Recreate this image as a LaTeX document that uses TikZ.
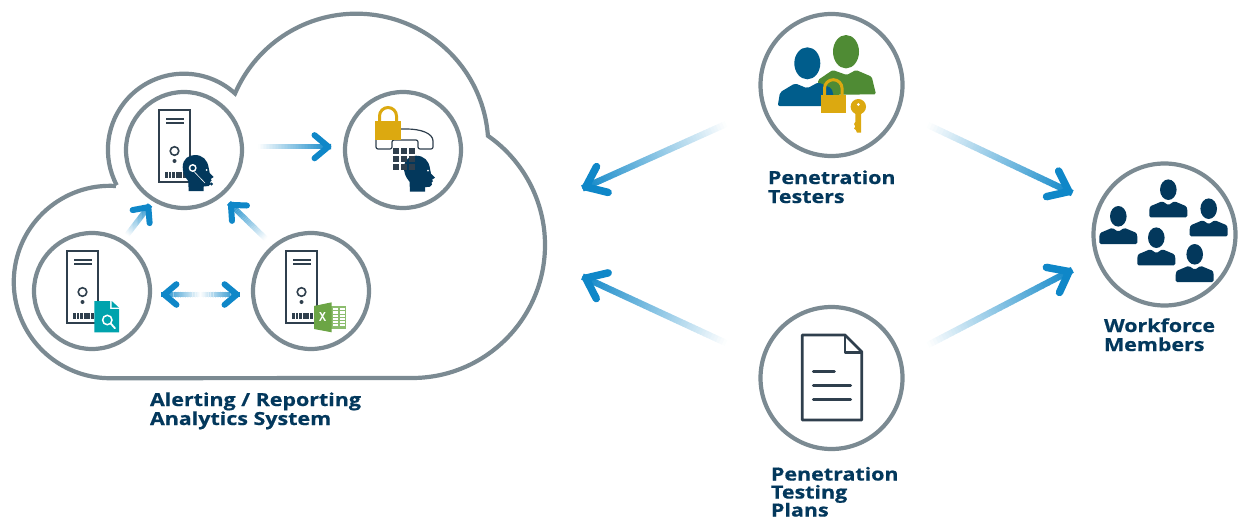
\documentclass[tikz,border=0pt]{standalone}
\usepackage{fontspec}
\usetikzlibrary{calc}
\newfontfamily\labelfont[FakeStretch=1.19,BoldFeatures={FakeBold=0.6}]{Open Sans}
\definecolor{ringgrey}{HTML}{7B8A92}
\definecolor{inkdark}{HTML}{2F3F4D}
\definecolor{navy}{HTML}{03385C}
\definecolor{arrowblue}{HTML}{0F87C8}
\definecolor{goldlock}{HTML}{DCA910}
\definecolor{peopleblue}{HTML}{005D8C}
\definecolor{peoplegreen}{HTML}{4F8B34}
\definecolor{tealdoc}{HTML}{00A3AD}
\definecolor{xlgreen}{HTML}{6CA545}
\definecolor{xllight}{HTML}{8CBD6E}
\tikzset{
  x=1pt,y=-1pt,
  ring/.style={circle,draw=ringgrey,line width=4.2pt,minimum size=#1,inner sep=0pt,outer sep=0pt},
  label/.style={anchor=base west,align=left,text=navy,inner sep=0pt,outer sep=0pt,
    font=\labelfont\bfseries\fontsize{18}{19}\selectfont},
  pics/server/.style={code={
    \draw[inkdark,line width=2pt] (-25,-40) rectangle (6,32);
    \draw[inkdark,line width=1.3pt] (-18,-31) -- (0,-31) (-18,-27) -- (0,-27);
    \draw[inkdark,line width=1.6pt] (-9.5,1) circle[radius=4.3];
    \fill[inkdark] (-9.5,11) circle[radius=2];
    \foreach \ya in {21.8,25.4}{
      \foreach \xa in {-18.8,-15.4,-12,-8,-4.6,-1.2}{
        \fill[inkdark] (\xa,\ya) rectangle ++(2.7,2.7);
      }}
  }},
  pics/profile/.style={code={
    \fill[navy] (6,36) -- (5.5,26) .. controls (1,21) and (0,16) .. (0,12)
      .. controls (0,4) and (6,0) .. (12,0) .. controls (20,0) and (25,5) .. (26,13)
      -- (27,18) -- (31,22) -- (28,24) -- (29,25.5) -- (27.5,27) -- (28,29) -- (26,31)
      -- (21,31.5) -- (21,36) -- cycle;
    \fill[white] (24,15) circle[radius=1];
  }},
  pics/person/.style={code={
    \fill[navy] (0,0) ellipse[x radius=8.3,y radius=10.3];
    \fill[navy,rounded corners=1.5pt] (-19,27.7) -- (-19,22) .. controls (-19,18) and (-18,16.5) .. (-15.5,15.5)
      -- (-6,11.5) -- (0,15.5) -- (6,11.5) -- (15.5,15.5) .. controls (18,16.5) and (19,18) .. (19,22)
      -- (19,27.7) -- cycle;
  }},
}
% tail, head, width: line from pale to full blue, in short steps
\newcommand{\gradshaft}[3]{%
  \foreach \i in {0,...,47}{
    \pgfmathsetmacro{\sa}{\i/48}
    \pgfmathsetmacro{\sb}{(\i+1.1)/48}
    \pgfmathsetmacro{\pc}{100*(\i+0.5)/48}
    \draw[arrowblue!\pc!white,line width=#3] ($(#1)!\sa!(#2)$) -- ($(#1)!\sb!(#2)$);
  }}
% head, tail, barb length, barb angle, width
\newcommand{\gradhead}[5]{%
  \coordinate (hubpt) at ($(#1)!0.45*#5!(#2)$);
  \draw[arrowblue,line width=#5,line cap=round,line join=round]
    ($(hubpt)!#3!#4:(#2)$) -- (hubpt) -- ($(hubpt)!#3!-#4:(#2)$);
}
\begin{document}
\begin{tikzpicture}
\useasboundingbox (0,0) rectangle (1238,517);
% cloud
\draw[ringgrey,line width=4.2pt,line join=miter,miter limit=20]
  (116,186) arc[start angle=-86.4,end angle=-270,radius=96.2]
  -- (412,378) arc[start angle=90,end angle=-55.2,radius=133]
  arc[start angle=-4.3,end angle=-156.7,radius=132]
  arc[start angle=-47.7,end angle=-207.9,radius=76];
% rings
\node[ring=116pt] (alert) at (184,150) {};
\node[ring=116pt] (phone) at (403,150) {};
\node[ring=116pt] (report) at (92,291) {};
\node[ring=116pt] (sheet) at (311,291) {};
\node[ring=142pt] (testers) at (831.5,85) {};
\node[ring=142pt] (plans) at (831.5,378) {};
\node[ring=142pt] (workforce) at (1164.5,234.5) {};
% servers
\pic at (184,150) {server};
\pic at (92,291) {server};
\pic at (311,291) {server};
% headset agent
\pic at (182.7,155) {profile};
\fill[white] (192.7,168) circle[radius=4];
\fill[navy] (192.7,168) circle[radius=2.3];
\draw[white,line width=0.6pt] (193.5,171) -- (205,183);
\fill[navy] (211.5,184) circle[radius=1.6];
% phone and keypad
\draw[inkdark,line width=1.2pt,fill=white,rounded corners=2pt] (376,134) -- (376,149) -- (392,149) -- (392,140)
  -- (418,140) -- (418,149) -- (433,149) -- (433,143) .. controls (433,133) and (420,129) .. (405,129) -- (376,129) -- cycle;
\pic at (404,155.7) {profile};
\foreach \xa in {393.2,401.2,409.2}{\foreach \ya in {148.2,156.2,164.2}{
  \fill[inkdark] (\xa,\ya) rectangle ++(6,6);}}
\draw[goldlock,line width=3pt] (379.5,122) -- (379.5,116) arc[start angle=180,end angle=360,radius=8.5] -- (396.5,122);
\fill[goldlock] (375,121) rectangle (401,140);
% report document
\fill[tealdoc] (94.3,301) -- (110,301) -- (110,309) -- (119,309) -- (119,332.3) -- (94.3,332.3) -- cycle;
\fill[tealdoc] (111.7,301) -- (119,307.7) -- (111.7,307.7) -- cycle;
\draw[white,line width=1.5pt] (107.3,320) circle[radius=4.7];
\draw[white,line width=1.8pt,line cap=round] (110.8,323.6) -- (115,328.3);
% spreadsheet
\fill[xllight] (331,306) rectangle (346,329);
\foreach \xa in {333,339.5}{\foreach \ya in {308.2,311.4,314.6,317.8,321,324.2}{
  \fill[white] (\xa,\ya) rectangle ++(5.2,2.2);}}
\fill[xlgreen] (314,306) -- (331.7,302.3) -- (331.7,332.3) -- (314,329) -- cycle;
\node[text=white,inner sep=0pt,font=\sffamily\bfseries\fontsize{13}{13}\selectfont,xscale=0.8] (xmark) at (322.7,317.3) {X};
% testers
\fill[peoplegreen] (846,51.7) ellipse[x radius=13,y radius=16.7];
\fill[peoplegreen,rounded corners=1.5pt] (818,95) -- (818,80) -- (832.7,70) -- (846.7,75) -- (856,70) -- (871.7,76.7) -- (876,94.3) -- cycle;
\fill[peopleblue] (807.3,63.3) ellipse[x radius=13,y radius=16];
\fill[peopleblue,rounded corners=2pt] (777.7,106) -- (780,92.3) -- (795,83.3) -- (807.3,88.3) -- (818.3,82.3) -- (831.7,88.3) -- (836,106) -- cycle;
\draw[goldlock,line width=3pt] (824.5,96) -- (824.5,88.5) arc[start angle=180,end angle=360,radius=8.8] -- (842.1,96);
\fill[goldlock] (820.7,95) rectangle (846,113.3);
\fill[goldlock] (858.3,106.7) circle[radius=7.7];
\fill[goldlock] (855.3,110) -- (861,110) -- (861,132.7) -- (857,132.7) -- (855.8,130) -- (854,128.5) -- (855.3,126.5) -- (854,124) -- (855.3,122) -- cycle;
\fill[white] (858.3,104.5) circle[radius=1.5];
% people
\pic at (1168.3,189.7) {person};
\pic at (1118.3,216.3) {person};
\pic at (1208.7,208.7) {person};
\pic at (1156.3,237.7) {person};
\pic at (1194.7,254.3) {person};
% plan document
\draw[inkdark,line width=2.8pt,line join=round] (802.3,335) -- (845,335) -- (861.7,351.7) -- (861.7,420) -- (802.3,420) -- cycle;
\draw[inkdark,line width=2.8pt,line join=round] (845,335) -- (845,352.5) -- (861.7,352.5);
\draw[inkdark,line width=3pt,line cap=round] (813.3,371.7) -- (834.3,371.7) (813.3,385.7) -- (850.7,385.7) (813.3,399.7) -- (850.7,399.7);
% connector ends
\coordinate (a1t) at (258,146.7); \coordinate (a1h) at (331,146.7);
\coordinate (a2t) at (127,235); \coordinate (a2h) at (150,205);
\coordinate (a3t) at (266,239); \coordinate (a3h) at (229,203);
\coordinate (a4l) at (161.5,294.5); \coordinate (a4r) at (239.5,294.5); \coordinate (a4m) at (200.5,294.5);
\coordinate (a5t) at (726,124); \coordinate (a5h) at (582.7,188.3);
\coordinate (a6t) at (726,343); \coordinate (a6h) at (582.7,276.7);
\coordinate (a7t) at (928,125); \coordinate (a7h) at (1072,193);
\coordinate (a8t) at (928,345); \coordinate (a8h) at (1072,270);
% connectors
\gradshaft{a1t}{a1h}{5.5pt}
\gradhead{a1h}{a1t}{18pt}{40}{6pt}
\gradshaft{a2t}{a2h}{5.5pt}
\gradhead{a2h}{a2t}{16pt}{42}{6pt}
\gradshaft{a3t}{a3h}{5.5pt}
\gradhead{a3h}{a3t}{16pt}{42}{6pt}
\gradshaft{a4m}{a4l}{5.5pt}
\gradshaft{a4m}{a4r}{5.5pt}
\gradhead{a4l}{a4r}{16pt}{40}{6pt}
\gradhead{a4r}{a4l}{16pt}{40}{6pt}
\gradshaft{a5t}{a5h}{6.5pt}
\gradhead{a5h}{a5t}{23pt}{38}{7.5pt}
\gradshaft{a6t}{a6h}{6.5pt}
\gradhead{a6h}{a6t}{23pt}{38}{7.5pt}
\gradshaft{a7t}{a7h}{6.5pt}
\gradhead{a7h}{a7t}{23pt}{38}{7.5pt}
\gradshaft{a8t}{a8h}{6.5pt}
\gradhead{a8h}{a8t}{23pt}{38}{7.5pt}
% labels
\node[label] (lalert) at (150,425) {Alerting / Reporting\\Analytics System};
\node[label] (ltesters) at (768,203) {Penetration\\Testers};
\node[label] (lwork) at (1104,351) {Workforce\\Members};
\node[label] (lplans) at (771,516.5) {Penetration\\[-1pt]Testing\\[-1pt]Plans};
\end{tikzpicture}
\end{document}
